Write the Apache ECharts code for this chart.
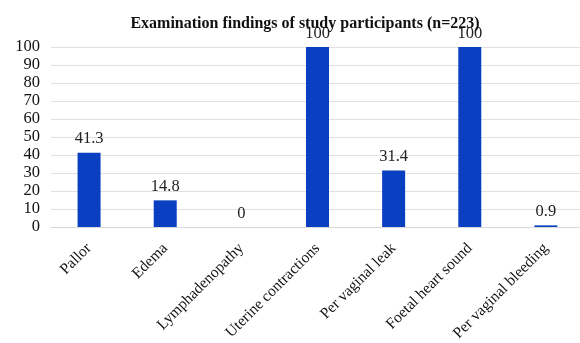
<!DOCTYPE html>
<html>
<head>
<meta charset="utf-8">
<script src="https://cdn.jsdelivr.net/npm/echarts@6/dist/echarts.min.js"></script>
<style>
  html, body { margin: 0; padding: 0; background: #fff; }
  #myChart { width: 580px; height: 343px; }
</style>
</head>
<body>
<div id="myChart"></div>
<script>
// chart data
const categories = ['Pallor', 'Edema', 'Lymphadenopathy', 'Uterine contractions', 'Per vaginal leak', 'Foetal heart sound', 'Per vaginal bleeding'];
const values = [41.3, 14.8, 0, 100, 31.4, 100, 0.9];
const titleText = 'Examination findings of study participants (n=223)';

const serif = '"Liberation Serif", "DejaVu Serif", serif';

let myChart = echarts.init(document.getElementById('myChart'));
myChart.setOption({
    animation: false,
    title: {
        text: titleText,
        left: 300,
        textAlign: 'center',
        top: 11,
        textStyle: { fontFamily: serif, fontSize: 16, fontWeight: 'bold', color: '#111' }
    },
    grid: { left: 51, right: -4, top: 47, bottom: 116, outerBoundsMode: 'none', containLabel: false },
    xAxis: {
        type: 'category',
        data: categories,
        axisLine: { show: true, lineStyle: { color: '#d9d9d9' } },
        axisTick: { show: false },
        axisLabel: {
            rotate: 45,
            interval: 0,
            margin: 19,
            fontFamily: serif,
            fontSize: 15.5,
            color: '#111'
        }
    },
    yAxis: {
        type: 'value',
        min: 0,
        max: 100,
        interval: 10,
        axisLine: { show: false },
        axisTick: { show: false },
        splitLine: { lineStyle: { color: '#e0e0e0' } },
        axisLabel: { fontFamily: serif, fontSize: 16.5, color: '#111', margin: 11 }
    },
    series: [{
        type: 'bar',
        data: values,
        barWidth: 23,
        itemStyle: { color: '#0b3fc1' },
        label: {
            show: true,
            position: 'top',
            distance: 5,
            fontFamily: serif,
            fontSize: 16.5,
            color: '#222'
        }
    }]
});
</script>
</body>
</html>
